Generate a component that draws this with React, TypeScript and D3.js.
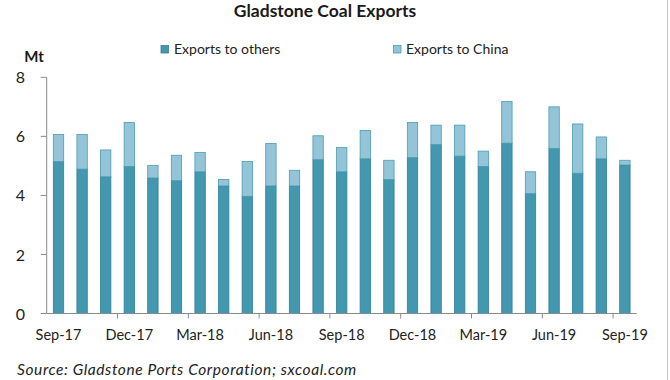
import React from "react";
import * as d3 from "d3";

const months = ["Sep-17","Oct-17","Nov-17","Dec-17","Jan-18","Feb-18","Mar-18","Apr-18","May-18","Jun-18","Jul-18","Aug-18","Sep-18","Oct-18","Nov-18","Dec-18","Jan-19","Feb-19","Mar-19","Apr-19","May-19","Jun-19","Jul-19","Aug-19","Sep-19"];
const exportsOthers = [5.15,4.89,4.63,4.98,4.59,4.50,4.80,4.32,3.97,4.32,4.32,5.21,4.80,5.24,4.54,5.28,5.72,5.33,4.98,5.77,4.06,5.59,4.75,5.24,5.03];
const exportsTotal = [6.06,6.06,5.54,6.47,5.01,5.36,5.45,4.54,5.15,5.76,4.85,6.02,5.62,6.20,5.19,6.47,6.38,6.38,5.50,7.18,4.80,7.00,6.42,5.98,5.19];
const exportsChina = exportsTotal.map((t, i) => +(t - exportsOthers[i]).toFixed(2));
const yTicks = [0, 2, 4, 6, 8];
const labelMonths = ["Sep-17","Dec-17","Mar-18","Jun-18","Sep-18","Dec-18","Mar-19","Jun-19","Sep-19"];

const W = 670, H = 380;
const left = 46.7, right = 636.7, top = 77.3, bottom = 313.5;
const FONT = "Lato, 'Open Sans', sans-serif";
const DARK = "#4398b0", DARK_STROKE = "#2f8199";
const LIGHT = "#93c4d7", LIGHT_STROKE = "#4d9db3";

export default function App() {
  const x = d3.scaleBand<string>().domain(months).range([left, right]).paddingInner(0.56).paddingOuter(0.28);
  const y = d3.scaleLinear().domain([0, 8]).range([bottom, top]);
  const bw = x.bandwidth();
  const boundaryTicks = d3.range(3, months.length, 3).map(i => left + i * (right - left) / months.length);

  return (
    <svg width={W} height={H} style={{ position: "absolute", left: 0, top: 0, background: "#fff" }} fontFamily={FONT}>
      <text x={325} y={16.5} textAnchor="middle" fontSize={17.5} fontWeight="bold" fill="#1a1a1a">Gladstone Coal Exports</text>
      <text x={34} y={62} textAnchor="middle" fontSize={15} fontWeight="bold" fill="#1a1a1a">Mt</text>
      {/* legend */}
      <rect x={161} y={45.5} width={7.5} height={7.5} fill={DARK} stroke={DARK_STROKE} strokeWidth={0.8} />
      <text x={174} y={54} fontSize={14} fill="#222">Exports to others</text>
      <rect x={393.5} y={45.5} width={7.5} height={7.5} fill={LIGHT} stroke={LIGHT_STROKE} strokeWidth={0.8} />
      <text x={406} y={54} fontSize={14} fill="#222">Exports to China</text>

      {/* y axis */}
      <line x1={left} x2={left} y1={top} y2={bottom} stroke="#8a8a8a" strokeWidth={1} />
      {yTicks.map(t => (
        <g key={t}>
          <line x1={left - 6} x2={left} y1={y(t)} y2={y(t)} stroke="#8a8a8a" />
          <text x={25} y={y(t)} dy="0.38em" textAnchor="end" fontSize={16} fill="#222">{t}</text>
        </g>
      ))}

      {/* bars */}
      {months.map((m, i) => (
        <g key={m}>
          <rect x={x(m)} y={y(exportsOthers[i])} width={bw} height={y(0) - y(exportsOthers[i])} fill={DARK} stroke={DARK_STROKE} strokeWidth={0.8} />
          <rect x={x(m)} y={y(exportsOthers[i] + exportsChina[i])} width={bw} height={y(exportsOthers[i]) - y(exportsOthers[i] + exportsChina[i])} fill={LIGHT} stroke={LIGHT_STROKE} strokeWidth={0.8} />
        </g>
      ))}

      {/* x axis */}
      <line x1={left} x2={right} y1={bottom} y2={bottom} stroke="#8a8a8a" strokeWidth={1} />
      {boundaryTicks.map((tx, i) => (
        <line key={i} x1={tx} x2={tx} y1={bottom} y2={bottom + 5} stroke="#8a8a8a" />
      ))}
      {labelMonths.map(m => (
        <text key={m} x={(x(m) as number) + bw / 2} y={340} textAnchor="middle" fontSize={14.5} fill="#222">{m}</text>
      ))}

      <text x={17} y={375} fontSize={15.5} letterSpacing={0.6} fontStyle="italic" fill="#222">Source: Gladstone Ports Corporation; sxcoal.com</text>
      <line x1={667.5} x2={667.5} y1={0} y2={H} stroke="#c8c8c8" />
    </svg>
  );
}
